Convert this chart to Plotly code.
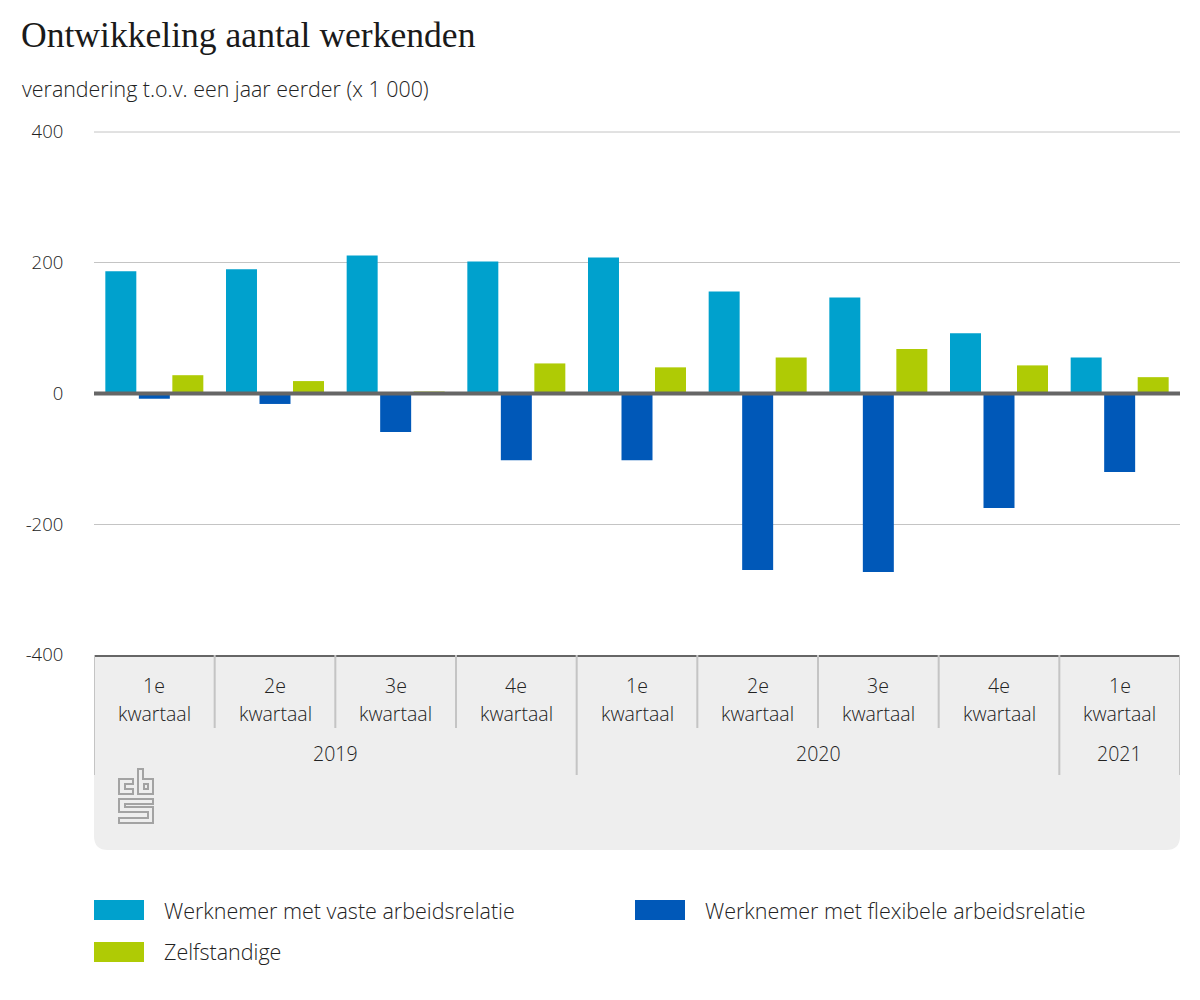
import plotly.graph_objects as go

years = ["2019", "2020", "2021"]
year_counts = [4, 4, 1]
quarters = ["1e", "2e", "3e", "4e", "1e", "2e", "3e", "4e", "1e"]
periods = ["2019-1", "2019-2", "2019-3", "2019-4", "2020-1", "2020-2", "2020-3", "2020-4", "2021-1"]

vast = [187, 190, 211, 202, 208, 156, 147, 92, 55]
flex = [-8, -16, -59, -102, -102, -270, -273, -175, -120]
zelf = [28, 19, 3, 46, 40, 55, 68, 43, 25]

y_ticks = [-400, -200, 0, 200, 400]
y_labels = ["-400", "-200", "0", "200", "400"]

names = ["Werknemer met vaste arbeidsrelatie", "Werknemer met flexibele arbeidsrelatie", "Zelfstandige"]
colors = ["#00a1cd", "#0058b8", "#afcb05"]

FONT = "Open Sans"
TXT = "#222222"
GRID = "#c4c4c4"
PANEL = "#eeeeee"

# the page body has an 8px margin, so the figure is that much smaller
W, H, BODY = 1184, 984, 8

# plot area in page pixels, used to place the things around the chart
X0, X1, Y0, Y1 = 94, 1180, 132, 655


def px(x):
    return (x - X0) / (X1 - X0)


def py(y):
    return (Y1 - y) / (Y1 - Y0)


def label(x, y, text, size=19, anchor="center"):
    return dict(xref="paper", yref="paper", x=px(x), y=py(y), text=text, showarrow=False,
                xanchor=anchor, yanchor="middle",
                font=dict(family=FONT, size=size, color=TXT, weight=300))


def axis_label(x, y, text):
    return dict(xref="x", yref="paper", x=x, y=py(y), text=text, showarrow=False, yanchor="middle",
                font=dict(family=FONT, size=19.5, color=TXT, weight=300))


def outline(points):
    return "M " + " L ".join(f"{px(x)} {py(y)}" for x, y in points) + " Z"


fig = go.Figure()
for name, values, color in zip(names, [vast, flex, zelf], colors):
    fig.add_trace(go.Bar(x=periods, y=values, name=name, marker=dict(color=color, line=dict(width=0))))

shapes = []
# grey panel under the axis
shapes.append(dict(type="path", xref="paper", yref="paper", layer="below", line=dict(width=0), fillcolor=PANEL,
                   path=f"M {px(X0)} {py(Y1)} L {px(X1)} {py(Y1)} L {px(X1)} {py(836)} "
                        f"Q {px(X1)} {py(850)} {px(1166)} {py(850)} L {px(108)} {py(850)} "
                        f"Q {px(X0)} {py(850)} {px(X0)} {py(836)} Z"))

# dividers: short ones between quarters, long ones between years
year_edges = [-0.5]
for c in year_counts:
    year_edges.append(year_edges[-1] + c)
for i in range(len(periods) + 1):
    edge = i - 0.5
    bottom = 775 if edge in year_edges else 728
    shapes.append(dict(type="line", xref="x", yref="paper", x0=edge, x1=edge, y0=py(Y1), y1=py(bottom),
                       line=dict(color=GRID, width=2)))

# plotly drops the gridline on the top edge, paper coordinates keep it from being clipped
shapes.append(dict(type="line", xref="paper", yref="paper", x0=0, x1=1, y0=py(132), y1=py(132),
                   line=dict(color=GRID, width=1)))
# zero line on top of the bars
shapes.append(dict(type="line", xref="paper", yref="y", x0=0, x1=1, y0=0, y1=0, line=dict(color="#666666", width=4)))

# cbs logo
logo = [
    [(133, 779), (119, 779), (119, 794), (133, 794), (133, 789), (125, 789), (125, 784), (133, 784)],
    [(138, 769), (143, 769), (143, 779), (153, 779), (153, 794), (138, 794)],
    [(144, 784), (148, 784), (148, 789), (144, 789)],
    [(153, 799), (119, 799), (119, 812), (148, 812), (148, 818), (119, 818), (119, 823), (153, 823),
     (153, 807), (125, 807), (125, 804), (153, 804)],
]
for part in logo:
    shapes.append(dict(type="path", xref="paper", yref="paper", path=outline(part),
                       line=dict(color="#a3a3a3", width=2)))

# legend, drawn by hand because of the large swatches
legend_pos = [(94, 910), (635, 910), (94, 952)]
annotations = []
for name, color, (lx, ly) in zip(names, colors, legend_pos):
    shapes.append(dict(type="rect", xref="paper", yref="paper", x0=px(lx), x1=px(lx + 50), y0=py(ly - 10), y1=py(ly + 10),
                       fillcolor=color, line=dict(width=0)))
    annotations.append(label(lx + 68, ly, name, size=21.5, anchor="left"))

annotations.append(label(20, 88, "verandering t.o.v. een jaar eerder (x 1 000)", size=21.4, anchor="left"))

# axis labels under the chart
for i, q in enumerate(quarters):
    annotations.append(axis_label(i, 685, q))
    annotations.append(axis_label(i, 713, "kwartaal"))
for year, start, end in zip(years, year_edges[:-1], year_edges[1:]):
    annotations.append(axis_label((start + end) / 2, 753, year))

fig.update_layout(
    width=W,
    height=H,
    margin=dict(l=X0 - BODY, r=W - (X1 - BODY), t=Y0 - BODY, b=H - (Y1 - BODY), pad=0),
    paper_bgcolor="white",
    plot_bgcolor="white",
    barmode="group",
    bargap=0.167,
    bargroupgap=0.075,
    showlegend=False,
    title=dict(text="Ontwikkeling aantal werkenden", x=(21 - BODY) / W, xanchor="left", y=1 - (35 - BODY) / H,
               yanchor="middle", font=dict(family="Liberation Serif", size=35.6, color="#1a1a1a")),
    shapes=shapes,
    annotations=annotations,
    xaxis=dict(type="category", categoryorder="array", categoryarray=periods, range=[-0.5, 8.5], showticklabels=False,
               ticks="", showgrid=False, zeroline=False, showline=True, linecolor="#666666", linewidth=2),
    yaxis=dict(range=[-400, 400], tickvals=y_ticks, ticktext=y_labels, ticks="outside", ticklen=26,
               tickcolor="rgba(0,0,0,0)", showgrid=True, gridcolor=GRID, gridwidth=1, zeroline=False, showline=False,
               tickfont=dict(family=FONT, size=18.5, color=TXT, weight=300)),
)

fig.write_html("out.html")
